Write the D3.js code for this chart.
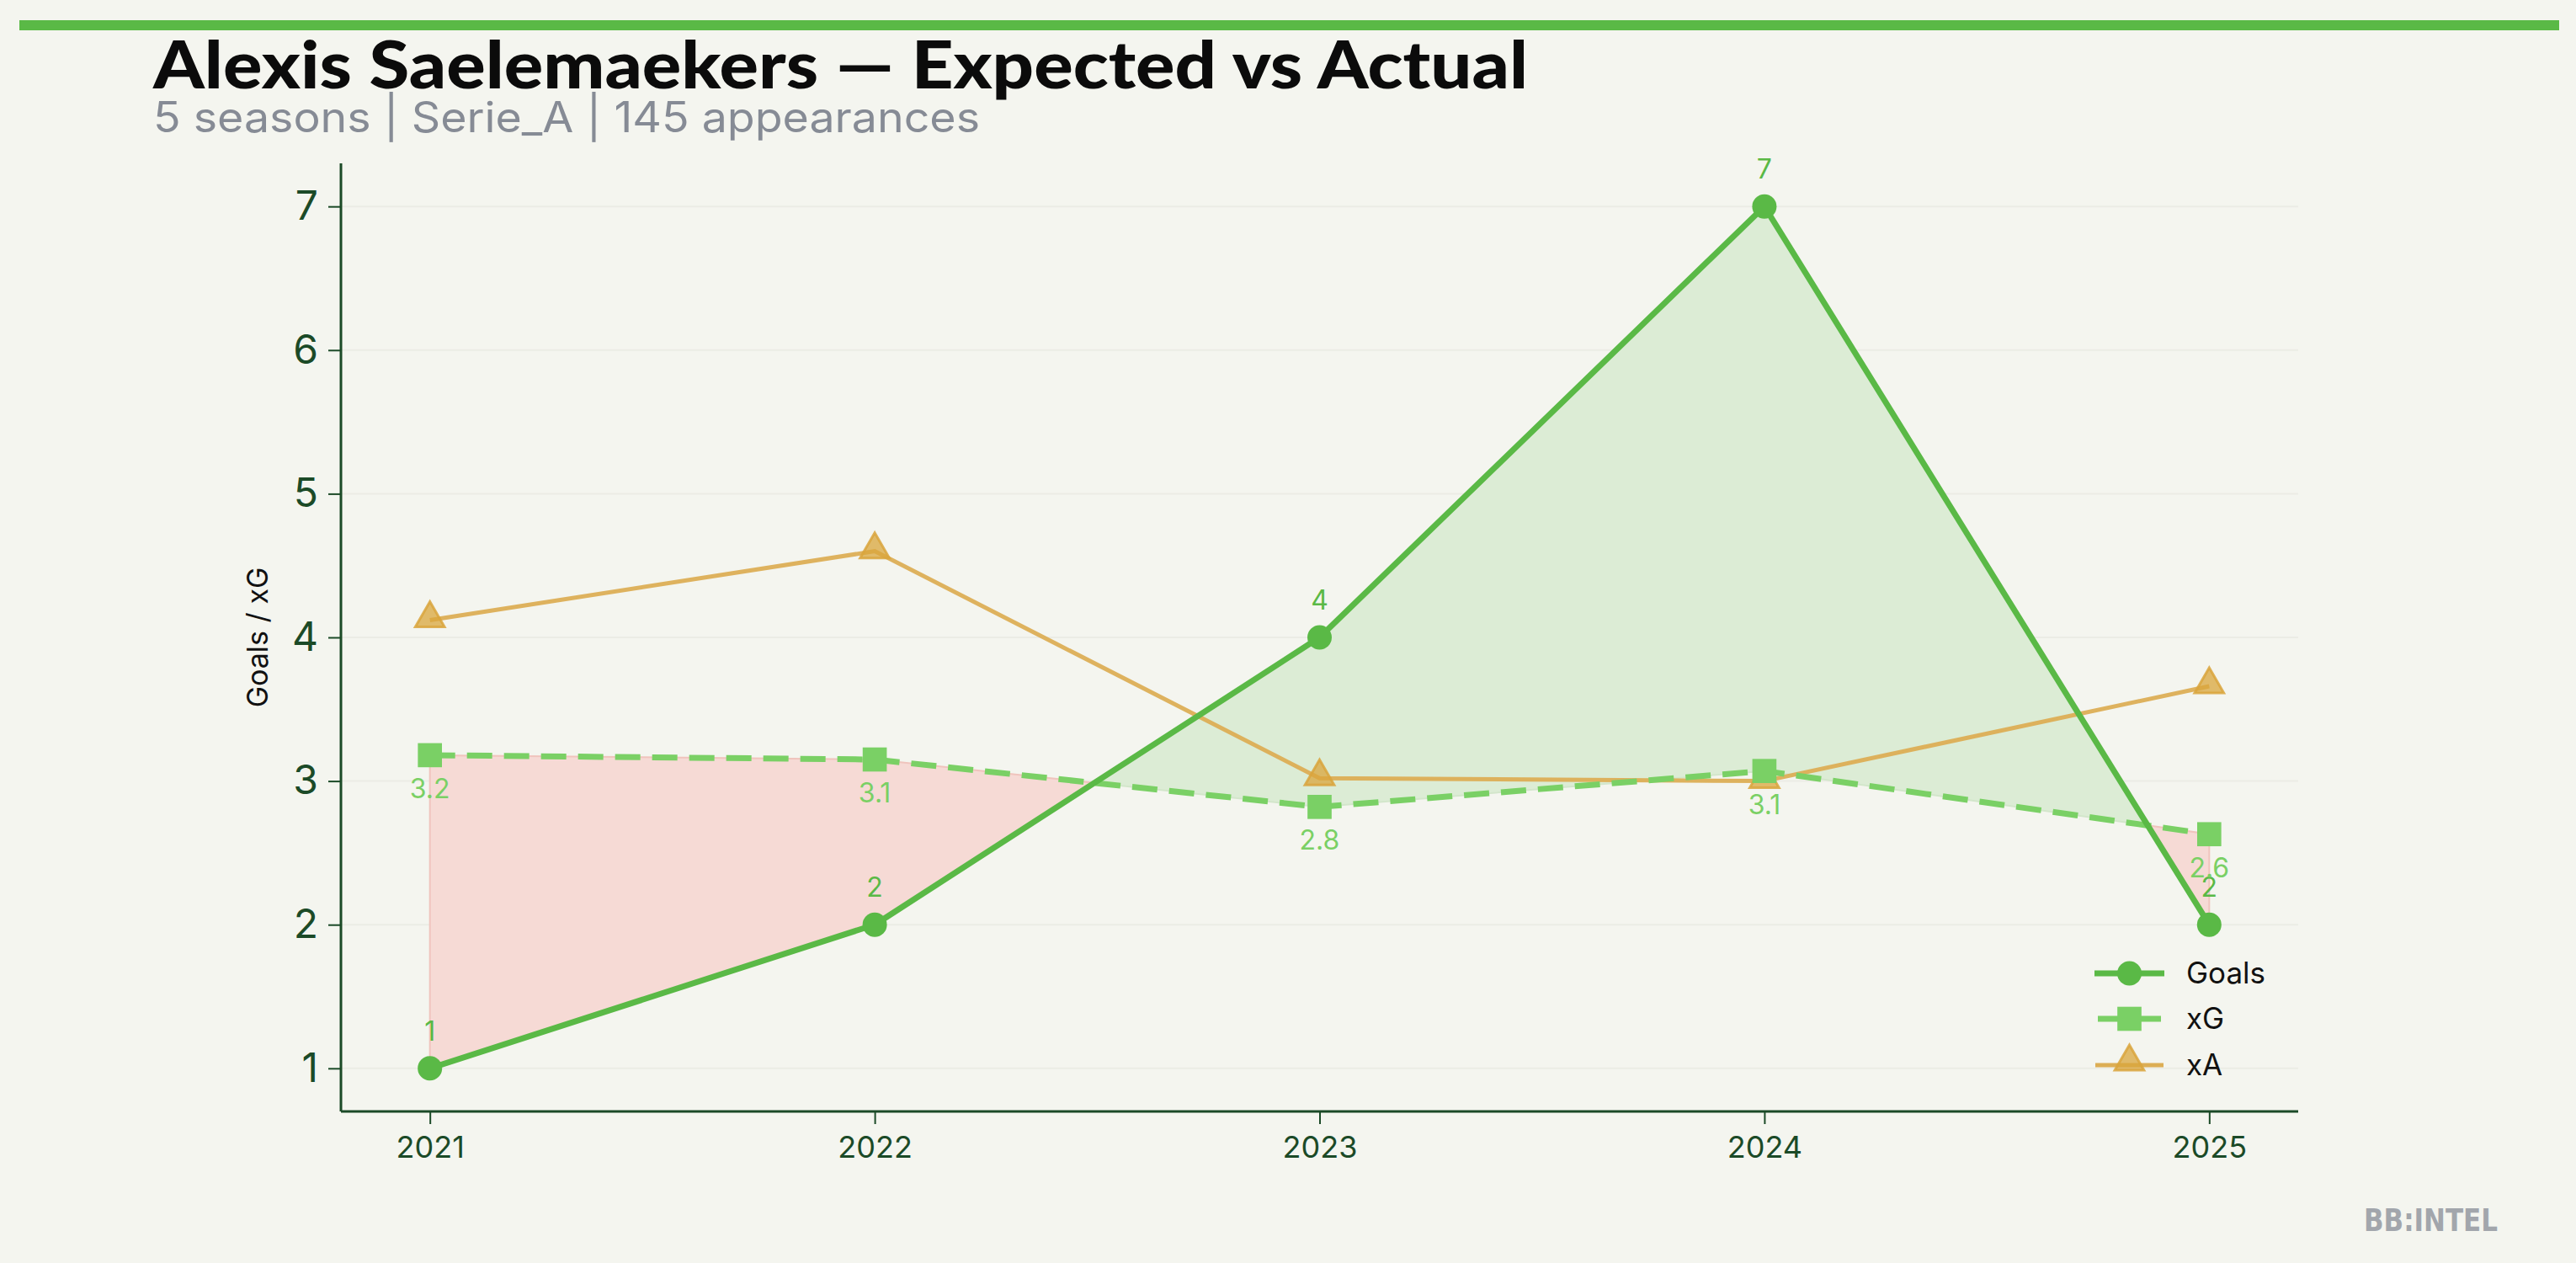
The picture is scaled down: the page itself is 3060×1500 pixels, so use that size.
<!DOCTYPE html>
<html>
<head>
<meta charset="utf-8">
<script src="https://cdn.jsdelivr.net/npm/d3@7"></script>
<style>
  html, body { margin: 0; padding: 0; background: #f4f5ef; }
  svg { display: block; }
</style>
</head>
<body>
<svg id="chart" width="3060" height="1500"></svg>
<script>
// ---- data ----
const seasons = [2021, 2022, 2023, 2024, 2025];
const goals = [1, 2, 4, 7, 2];
const xG = [3.18, 3.15, 2.82, 3.07, 2.63];
const xA = [4.12, 4.60, 3.02, 3.00, 3.66];
const xGLabels = ["3.2", "3.1", "2.8", "3.1", "2.6"];
const goalLabels = ["1", "2", "4", "7", "2"];
const yTicks = [1, 2, 3, 4, 5, 6, 7];
const titleText = "Alexis Saelemaekers \u2014 Expected vs Actual";
const subtitleText = "5 seasons | Serie_A | 145 appearances";
const legendNames = ["Goals", "xG", "xA"];

// ---- colours ----
const C = {
  bg: "#f4f5ef", goals: "#5ab946", xg: "#7ad065", xa: "#dcae55", xaMark: "#d9a53c",
  axis: "#1b4a27", grid: "#ebece5", red: "#f6dad5", green: "#dcecd5",
  redEdge: "#f0c4bd", greenEdge: "#d3e6cb", title: "#0b0b0b", sub: "#868b95", mark: "#a2a6ac"
};

const svg = d3.select("#chart");
svg.append("rect").attr("width", 3060).attr("height", 1500).attr("fill", C.bg);

// top bar
svg.append("rect").attr("x", 23).attr("y", 24).attr("width", 3017).attr("height", 12).attr("fill", C.goals);

// title
svg.append("text").attr("x", 182).attr("y", 105)
  .attr("font-family", "Lato, Inter, sans-serif").attr("font-weight", 900)
  .attr("font-size", 78).attr("fill", C.title)
  .attr("textLength", 1633).attr("lengthAdjust", "spacingAndGlyphs")
  .text(titleText);
svg.append("text").attr("x", 182).attr("y", 157)
  .attr("font-family", "Inter, Roboto, sans-serif").attr("font-weight", 400)
  .attr("font-size", 50).attr("fill", C.sub)
  .attr("textLength", 982).attr("lengthAdjust", "spacingAndGlyphs")
  .text(subtitleText);

// ---- scales ----
const L = 405, R = 2730, T = 194, B = 1320;
const x = d3.scaleLinear().domain([2020.8, 2025.2]).range([L, R]);
const y = d3.scaleLinear().domain([0.7, 7.3]).range([B, T]);

// grid
svg.append("g").selectAll("line").data(yTicks).join("line")
  .attr("x1", L).attr("x2", R)
  .attr("y1", d => y(d)).attr("y2", d => y(d))
  .attr("stroke", C.grid).attr("stroke-width", 2);

// ---- fills between goals and xG (merged into contiguous regions) ----
const regions = [];
let cur = { sign: Math.sign(goals[0] - xG[0]), pts: [[seasons[0], goals[0], xG[0]]] };
for (let i = 0; i < seasons.length - 1; i++) {
  const x0 = seasons[i], x1 = seasons[i + 1];
  const d0 = goals[i] - xG[i], d1 = goals[i + 1] - xG[i + 1];
  if (d0 * d1 < 0) {
    const t = d0 / (d0 - d1);
    const xc = x0 + t * (x1 - x0);
    const yc = goals[i] + t * (goals[i + 1] - goals[i]);
    cur.pts.push([xc, yc, yc]);
    regions.push(cur);
    cur = { sign: Math.sign(d1), pts: [[xc, yc, yc]] };
  }
  cur.pts.push([x1, goals[i + 1], xG[i + 1]]);
}
regions.push(cur);
const area = d3.area().x(d => x(d[0])).y0(d => y(d[1])).y1(d => y(d[2]));
svg.append("g").selectAll("path").data(regions).join("path")
  .attr("d", r => area(r.pts))
  .attr("fill", r => r.sign < 0 ? C.red : C.green)
  .attr("stroke", r => r.sign < 0 ? C.redEdge : C.greenEdge)
  .attr("stroke-width", 2);

// ---- axes ----
const yAxis = d3.axisLeft(y).tickValues(yTicks).tickSize(15).tickPadding(12).tickFormat(d3.format("d"));
const gy = svg.append("g").attr("transform", `translate(${L},0)`).call(yAxis);
gy.select(".domain").attr("stroke", C.axis).attr("stroke-width", 3).attr("d", `M0,${T}V${B}`);
gy.selectAll(".tick line").attr("stroke", C.axis).attr("stroke-width", 2);
gy.selectAll(".tick text").attr("fill", C.axis).attr("font-size", 48)
  .attr("font-family", "Inter, 'DejaVu Sans', sans-serif");

const xAxis = d3.axisBottom(x).tickValues(seasons).tickSize(15).tickPadding(14).tickFormat(d3.format("d"));
const gx = svg.append("g").attr("transform", `translate(0,${B})`).call(xAxis);
gx.select(".domain").attr("stroke", C.axis).attr("stroke-width", 3).attr("d", `M${L},0H${R}`);
gx.selectAll(".tick line").attr("stroke", C.axis).attr("stroke-width", 2);
gx.selectAll(".tick text").attr("fill", C.axis).attr("font-size", 36)
  .attr("font-family", "Inter, 'DejaVu Sans', sans-serif");

// y label
svg.append("text").attr("transform", `translate(318,${(T + B) / 2}) rotate(-90)`)
  .attr("text-anchor", "middle").attr("font-size", 34).attr("fill", "#111")
  .attr("font-family", "Inter, Roboto, sans-serif").text("Goals / xG");

// ---- lines ----
const line = d3.line().x(d => x(d[0])).y(d => y(d[1]));
const xaPts = seasons.map((s, i) => [s, xA[i]]);
const xgPts = seasons.map((s, i) => [s, xG[i]]);
const goalPts = seasons.map((s, i) => [s, goals[i]]);

const tri = d3.symbol().type(d3.symbolTriangle).size(520);
const sq = d3.symbol().type(d3.symbolSquare).size(820);

// xA
svg.append("path").attr("d", line(xaPts)).attr("fill", "none")
  .attr("stroke", C.xa).attr("stroke-width", 5).attr("opacity", 0.95);
svg.append("g").selectAll("path").data(xaPts).join("path")
  .attr("transform", d => `translate(${x(d[0])},${y(d[1]) - 2})`)
  .attr("d", tri).attr("fill", C.xaMark).attr("fill-opacity", 0.75)
  .attr("stroke", C.xaMark).attr("stroke-width", 3).attr("stroke-opacity", 0.85);

// xG
svg.append("path").attr("d", line(xgPts)).attr("fill", "none")
  .attr("stroke", C.xg).attr("stroke-width", 7).attr("stroke-dasharray", "30,14");
svg.append("g").selectAll("path").data(xgPts).join("path")
  .attr("transform", d => `translate(${x(d[0])},${y(d[1])})`)
  .attr("d", sq).attr("fill", C.xg);

// Goals
svg.append("path").attr("d", line(goalPts)).attr("fill", "none")
  .attr("stroke", C.goals).attr("stroke-width", 7).attr("stroke-linejoin", "round");
svg.append("g").selectAll("circle").data(goalPts).join("circle")
  .attr("cx", d => x(d[0])).attr("cy", d => y(d[1])).attr("r", 14.5).attr("fill", C.goals);

// ---- value labels ----
svg.append("g").selectAll("text").data(goalPts).join("text")
  .attr("x", d => x(d[0])).attr("y", d => y(d[1]) - 33)
  .attr("text-anchor", "middle").attr("font-size", 32).attr("fill", C.goals)
  .attr("font-family", "Inter, Roboto, sans-serif")
  .text((d, i) => goalLabels[i]);
svg.append("g").selectAll("text").data(xgPts).join("text")
  .attr("x", d => x(d[0])).attr("y", d => y(d[1]) + 51)
  .attr("text-anchor", "middle").attr("font-size", 32).attr("fill", C.xg)
  .attr("font-family", "Inter, Roboto, sans-serif")
  .text((d, i) => xGLabels[i]);

// ---- legend ----
const lg = svg.append("g");
const legY = [1156, 1210, 1265];
const lx0 = 2488, lx1 = 2571, lxm = (lx0 + lx1) / 2;
// Goals
lg.append("line").attr("x1", lx0).attr("x2", lx1).attr("y1", legY[0]).attr("y2", legY[0])
  .attr("stroke", C.goals).attr("stroke-width", 7);
lg.append("circle").attr("cx", lxm).attr("cy", legY[0]).attr("r", 14.5).attr("fill", C.goals);
// xG
lg.append("line").attr("x1", lx0 + 4).attr("x2", lx1 - 4).attr("y1", legY[1]).attr("y2", legY[1])
  .attr("stroke", C.xg).attr("stroke-width", 7);
lg.append("path").attr("transform", `translate(${lxm},${legY[1]})`).attr("d", sq).attr("fill", C.xg);
// xA
lg.append("line").attr("x1", lx0 + 1).attr("x2", lx1 - 1).attr("y1", legY[2]).attr("y2", legY[2])
  .attr("stroke", C.xa).attr("stroke-width", 5);
lg.append("path").attr("transform", `translate(${lxm},${legY[2] - 4})`).attr("d", tri)
  .attr("fill", C.xaMark).attr("fill-opacity", 0.75)
  .attr("stroke", C.xaMark).attr("stroke-width", 3).attr("stroke-opacity", 0.85);
lg.selectAll("text").data(legendNames).join("text")
  .attr("x", 2597).attr("y", (d, i) => legY[i] + 12)
  .attr("font-size", 35).attr("fill", "#111")
  .attr("font-family", "Inter, Roboto, sans-serif")
  .text(d => d);

// watermark
svg.append("text").attr("x", 2808).attr("y", 1462)
  .attr("font-family", "'DejaVu Sans', sans-serif").attr("font-weight", 700)
  .attr("font-size", 38).attr("fill", C.mark)
  .attr("textLength", 159).attr("lengthAdjust", "spacingAndGlyphs")
  .text("BB:INTEL");
</script>
</body>
</html>
